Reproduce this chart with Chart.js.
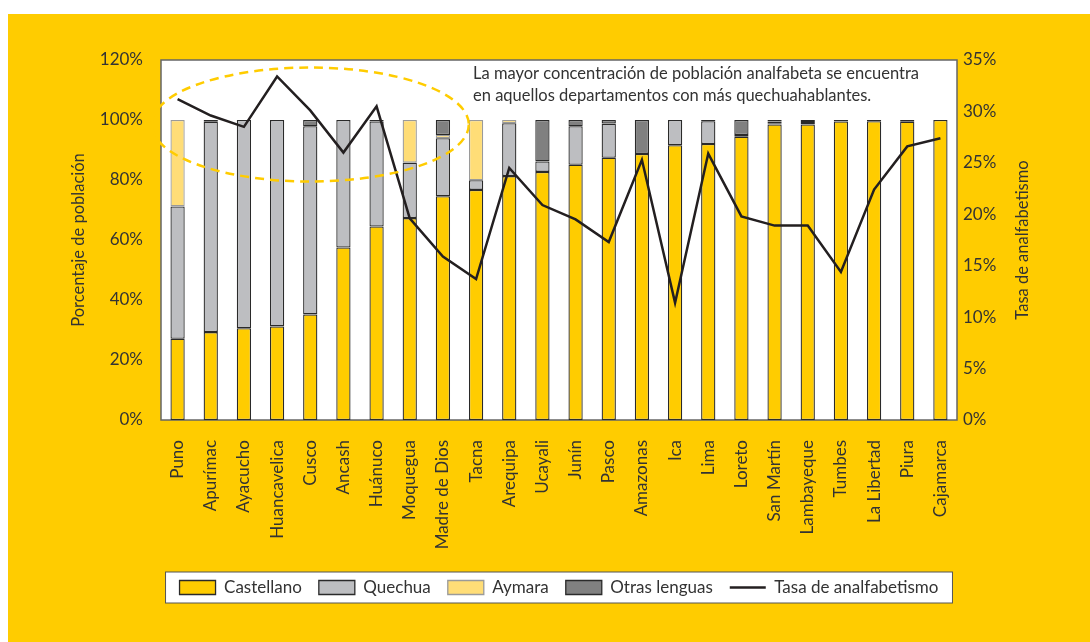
<!DOCTYPE html>
<html>
<head>
<meta charset="utf-8">
<script src="https://cdn.jsdelivr.net/npm/chart.js@4/dist/chart.umd.min.js"></script>
<style>
    body { margin: 0; background: #ffffff; }
    #wrap { position: absolute; left: 8px; top: 14px; width: 1082px; height: 628px; background: #ffcc00; }
</style>
</head>
<body>
<div id="wrap"><canvas id="chart"></canvas></div>
<script>
const departamentos = ['Puno', 'Apurímac', 'Ayacucho', 'Huancavelica', 'Cusco', 'Ancash', 'Huánuco', 'Moquegua',
    'Madre de Dios', 'Tacna', 'Arequipa', 'Ucayali', 'Junín', 'Pasco', 'Amazonas', 'Ica', 'Lima', 'Loreto',
    'San Martín', 'Lambayeque', 'Tumbes', 'La Libertad', 'Piura', 'Cajamarca'];

const castellano = [27.1, 29.3, 30.6, 31.2, 35.2, 57.5, 64.5, 67.3, 74.6, 76.7, 81.3, 82.7, 85.1, 87.4, 88.7, 91.6, 92.0, 94.4, 98.5, 98.5, 99.5, 99.6, 99.4, 100];
const quechua = [44.1, 70.1, 69.4, 68.8, 62.7, 42.5, 35.0, 18.5, 19.3, 3.2, 17.6, 3.5, 12.8, 11.4, 0, 8.4, 7.6, 0.6, 0.4, 0.8, 0, 0.4, 0, 0];
const aymara = [28.8, 0, 0, 0, 0, 0, 0, 14.2, 1.1, 20.1, 1.1, 0, 0, 0, 0, 0, 0, 0, 0, 0, 0, 0, 0, 0];
const otrasLenguas = [0, 0, 0, 0, 2.1, 0, 0, 0, 5.0, 0, 0, 13.8, 2.1, 1.2, 11.3, 0, 0, 5.0, 0, 0, 0, 0, 0.6, 0];
// thin strips at the top of some bars, not named in the legend
const extranjera = [0, 0.6, 0, 0, 0, 0, 0.5, 0, 0, 0, 0, 0, 0, 0, 0, 0, 0.4, 0, 0.6, 0, 0.5, 0, 0, 0];
const otraNoEsp = [0, 0, 0, 0, 0, 0, 0, 0, 0, 0, 0, 0, 0, 0, 0, 0, 0, 0, 0.5, 0.7, 0, 0, 0, 0];

const tasaAnalfabetismo = [31.2, 29.6, 28.5, 33.4, 30.1, 26.0, 30.5, 19.6, 15.9, 13.7, 24.5, 20.9, 19.5, 17.3, 25.3, 11.4, 25.9, 19.8, 18.9, 18.9, 14.4, 22.4, 26.6, 27.4];

const leftTicks = ['0%', '20%', '40%', '60%', '80%', '100%', '120%'];
const rightTicks = ['0%', '5%', '10%', '15%', '20%', '25%', '30%', '35%'];

const textColor = '#333333';
const fontFamily = 'Lato, "Noto Sans", sans-serif';

function noZeros(arr) {
    return arr.map(v => v === 0 ? null : v);
}

function barSet(label, data, color, border) {
    return {
        type: 'bar',
        label: label,
        data: noZeros(data),
        backgroundColor: color,
        borderColor: border,
        borderWidth: 1.3,
        borderSkipped: false,
        stack: 'lenguas',
        yAxisID: 'y',
        order: 1,
        categoryPercentage: 1,
        barPercentage: 0.43
    };
}

const frame = {
    id: 'frame',
    beforeDraw(chart) {
        const ctx = chart.ctx;
        const a = chart.chartArea;
        ctx.save();
        ctx.fillStyle = '#ffffff';
        ctx.fillRect(a.left, a.top, a.right - a.left, a.bottom - a.top);
        ctx.strokeStyle = '#666666';
        ctx.lineWidth = 1.5;
        ctx.strokeRect(a.left, a.top, a.right - a.left, a.bottom - a.top);

        // box behind the legend
        const boxes = chart.legend.legendHitBoxes;
        if (boxes && boxes.length) {
            const left = Math.min(...boxes.map(b => b.left)) - 14;
            const right = Math.max(...boxes.map(b => b.left + b.width)) + 14;
            const top = boxes[0].top - 7;
            const h = boxes[0].height + 14;
            ctx.fillStyle = '#ffffff';
            ctx.fillRect(left, top, right - left, h);
            ctx.strokeStyle = '#555555';
            ctx.lineWidth = 1;
            ctx.strokeRect(left, top, right - left, h);
        }
        ctx.restore();
    },
    afterDatasetsDraw(chart) {
        const ctx = chart.ctx;
        const x = chart.scales.x;
        const y = chart.scales.y;
        const a = chart.chartArea;
        const step = x.getPixelForValue(1) - x.getPixelForValue(0);

        ctx.save();
        ctx.strokeStyle = '#ffcc00';
        ctx.lineWidth = 2.5;
        ctx.setLineDash([9, 6]);
        ctx.beginPath();
        ctx.ellipse(x.getPixelForValue(4), y.getPixelForValue(98.5), step * 4.78,
            y.getPixelForValue(0) - y.getPixelForValue(19), 0, 0, Math.PI * 2);
        ctx.stroke();
        ctx.setLineDash([]);

        ctx.fillStyle = textColor;
        ctx.font = '16.5px ' + fontFamily;
        ctx.textAlign = 'left';
        ctx.textBaseline = 'middle';
        ctx.fillText('La mayor concentración de población analfabeta se encuentra', a.left + 312, a.top + 14);
        ctx.fillText('en aquellos departamentos con más quechuahablantes.', a.left + 312, a.top + 36);
        ctx.restore();
    },
    afterDraw(chart) {
        const ctx = chart.ctx;
        const a = chart.chartArea;
        ctx.save();
        ctx.translate(a.right + 66, (a.top + a.bottom) / 2);
        ctx.rotate(-Math.PI / 2);
        ctx.fillStyle = textColor;
        ctx.font = '16.5px ' + fontFamily;
        ctx.textAlign = 'center';
        ctx.textBaseline = 'middle';
        ctx.fillText('Tasa de analfabetismo', 0, 0);
        ctx.restore();
    }
};

new Chart(document.getElementById('chart'), {
    data: {
        labels: departamentos,
        datasets: [
            barSet('Castellano', castellano, '#ffcc00', '#2a2a2a'),
            barSet('Quechua', quechua, '#bdbec1', '#2a2a2a'),
            barSet('Aymara', aymara, '#ffdd77', '#9a9a9a'),
            barSet('Otras lenguas', otrasLenguas, '#808080', '#2a2a2a'),
            barSet('Extranjera', extranjera, '#1f5f7f', '#2a2a2a'),
            barSet('No especificado', otraNoEsp, '#8b4a2b', '#2a2a2a'),
            {
                type: 'line',
                label: 'Tasa de analfabetismo',
                data: tasaAnalfabetismo,
                borderColor: '#231f20',
                backgroundColor: '#231f20',
                borderWidth: 2.5,
                pointRadius: 0,
                tension: 0,
                yAxisID: 'y2',
                order: 0
            }
        ]
    },
    options: {
        responsive: true,
        maintainAspectRatio: false,
        animation: false,
        layout: { padding: { left: 60, right: 40, top: 46, bottom: 36 } },
        plugins: {
            tooltip: { enabled: false },
            legend: {
                position: 'bottom',
                labels: {
                    usePointStyle: true,
                    pointStyleWidth: 36,
                    boxHeight: 14,
                    padding: 17,
                    color: textColor,
                    font: { family: fontFamily, size: 17 },
                    filter: item => item.text !== 'Extranjera' && item.text !== 'No especificado',
                    sort: (a, b) => a.datasetIndex - b.datasetIndex,
                    generateLabels(chart) {
                        const items = Chart.defaults.plugins.legend.labels.generateLabels(chart);
                        items.forEach(item => {
                            item.pointStyle = item.text === 'Tasa de analfabetismo' ? 'line' : 'rect';
                            if (item.pointStyle === 'rect') item.lineWidth = 1.3;
                        });
                        return items;
                    }
                }
            }
        },
        scales: {
            x: {
                grid: { display: false, drawTicks: false },
                border: { display: false },
                ticks: {
                    minRotation: 90,
                    maxRotation: 90,
                    padding: 20,
                    color: textColor,
                    font: { family: fontFamily, size: 17 }
                },
                afterFit(scale) { scale.height = 142; }
            },
            y: {
                position: 'left',
                stacked: true,
                min: 0,
                max: 120,
                grid: { display: false, drawTicks: false },
                border: { display: false },
                ticks: {
                    stepSize: 20,
                    padding: 18,
                    color: textColor,
                    font: { family: fontFamily, size: 17 },
                    callback: (v, i) => leftTicks[i]
                },
                title: {
                    display: true,
                    text: 'Porcentaje de población',
                    color: textColor,
                    font: { family: fontFamily, size: 16.5 },
                    padding: { top: 1, bottom: 0 }
                },
                afterFit(scale) { scale.width = 93; }
            },
            y2: {
                position: 'right',
                min: 0,
                max: 35,
                grid: { display: false, drawTicks: false },
                border: { display: false },
                ticks: {
                    stepSize: 5,
                    padding: 6,
                    color: textColor,
                    font: { family: fontFamily, size: 17 },
                    callback: (v, i) => rightTicks[i]
                },
                afterFit(scale) { scale.width = 93; }
            }
        }
    },
    plugins: [frame]
});
</script>
</body>
</html>
